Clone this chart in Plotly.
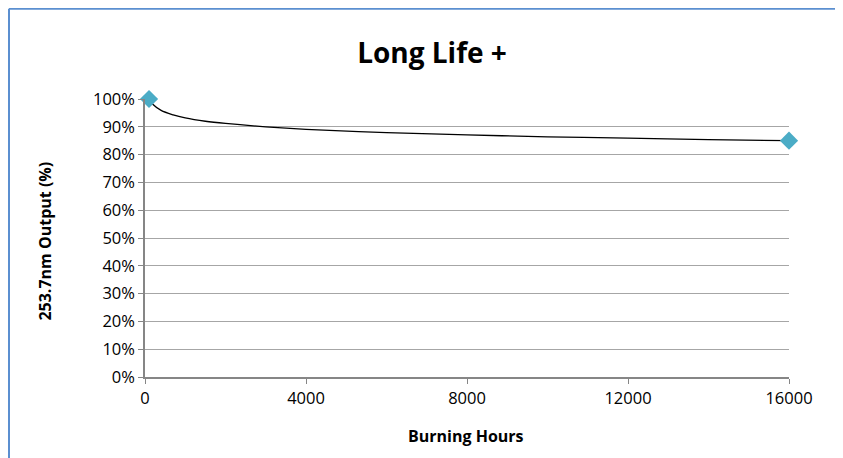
import plotly.graph_objects as go

# Measured data points
hours = [100, 16000]
output = [1.00, 0.85]

# Trendline
trend_hours = [100, 200, 400, 700, 1000, 1500, 2000, 3000, 4000, 6000, 8000, 10000, 12000, 14000, 16000]
trend_output = [1.000, 0.980, 0.959, 0.943, 0.932, 0.920, 0.912, 0.900, 0.891, 0.879, 0.871, 0.864, 0.859, 0.854, 0.850]

x_ticks = [0, 4000, 8000, 12000, 16000]
y_ticks = [i / 10 for i in range(11)]

FONT = "Open Sans"
AXIS = "#868686"
GRID = "#a6a6a6"

# plot area in figure pixels (page body has an 8px offset)
L, T, PW, PH = 137, 91.3, 644, 278.2
W, H = 843, 458

def px(p):
    return (p - L) / PW

def py(p):
    return (T + PH - p) / PH

fig = go.Figure()
fig.add_trace(go.Scatter(
    x=trend_hours, y=trend_output, mode="lines",
    line=dict(color="black", width=1.3, shape="spline"),
    hoverinfo="skip", showlegend=False,
))
fig.add_trace(go.Scatter(
    x=hours, y=output, mode="markers",
    marker=dict(symbol="diamond", size=14, color="#4bacc6"),
    showlegend=False, cliponaxis=False,
))

fig.update_layout(
    width=W, height=H,
    margin=dict(l=L, r=W - L - PW, t=T, b=H - T - PH),
    paper_bgcolor="white", plot_bgcolor="white",
    font=dict(family=FONT, size=16, color="black"),
    title=dict(text="<b>Long Life +</b>", x=424 / W, xref="container", xanchor="center",
               y=1 - 45 / H, yref="container", yanchor="middle",
               font=dict(family=FONT, size=28, color="black")),
    xaxis=dict(range=[0, 16000], tickvals=x_ticks, ticktext=[str(v) for v in x_ticks],
               showgrid=False, zeroline=False, showline=True, linecolor=AXIS, linewidth=1.5,
               ticks="outside", ticklen=5, tickcolor=AXIS, tickfont=dict(size=16.5)),
    yaxis=dict(range=[0, 1], tickvals=y_ticks, ticktext=[f"{int(round(v*100))}%" for v in y_ticks],
               showgrid=True, gridcolor=GRID, gridwidth=1, zeroline=False,
               showline=True, linecolor=AXIS, linewidth=1.5,
               ticks="outside", ticklen=5, tickcolor=AXIS, tickfont=dict(size=16.5)),
    annotations=[
        dict(text="<b>Burning Hours</b>", x=(465.5 - 145) / 644, xref="paper",
             y=-(437 - 377.5) / 278.2, yref="paper", showarrow=False,
             font=dict(size=16), xanchor="center", yanchor="middle"),
        dict(text="<b>253.7nm Output (%)</b>", x=(45 - 145) / 644, xref="paper",
             y=(377.5 - 242) / 278.2, yref="paper", showarrow=False, textangle=-90,
             font=dict(size=16), xanchor="center", yanchor="middle"),
    ],
    shapes=[
        dict(type="line", xref="paper", yref="paper",
             x0=px(1), x1=px(W + 20), y0=py(1), y1=py(1),
             line=dict(color="#5b8fd0", width=2)),
        dict(type="line", xref="paper", yref="paper",
             x0=px(1), x1=px(1), y0=py(1), y1=py(H + 20),
             line=dict(color="#5b8fd0", width=2)),
    ],
)

fig.write_html("out.html")
